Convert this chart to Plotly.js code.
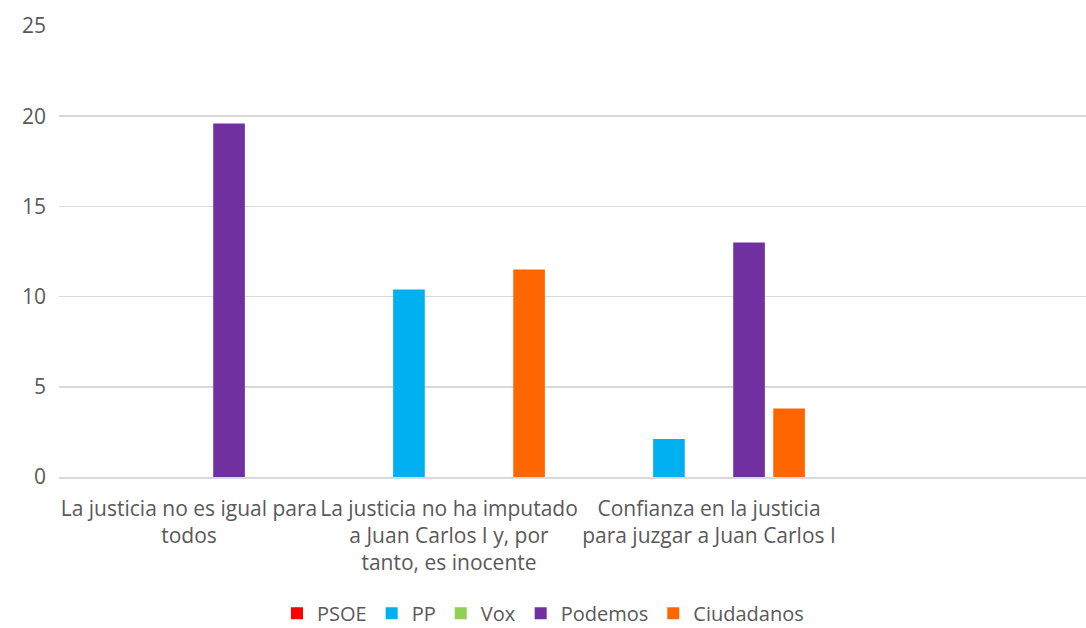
<!DOCTYPE html>
<html>
<head>
<meta charset="utf-8">
<script src="https://cdn.plot.ly/plotly-3.0.1.min.js"></script>
<style>html,body{margin:0;padding:0;background:#fff;}#chart{width:1086px;height:628px;}</style>
</head>
<body>
<div id="chart"></div>
<script>
const categories = [
  "La justicia no es igual para<br>todos",
  "La justicia no ha imputado<br>a Juan Carlos I y, por<br>tanto, es inocente",
  "Confianza en la justicia<br>para juzgar a Juan Carlos I"
];
const psoe = [null, null, null];
const pp = [null, 10.4, 2.1];
const vox = [null, null, null];
const podemos = [19.6, null, 13.0];
const ciudadanos = [null, 11.5, 3.8];

const seriesNames = ["PSOE", "PP", "Vox", "Podemos", "Ciudadanos"];
const seriesValues = [psoe, pp, vox, podemos, ciudadanos];
const seriesColors = ["#FF0000", "#00B0F0", "#92D050", "#7030A0", "#FF6600"];

const traces = seriesNames.map((n, i) => ({
  type: "bar",
  name: n,
  x: categories,
  y: seriesValues[i],
  marker: {color: seriesColors[i]},
  hoverinfo: "x+y+name"
}));

const FONT = "'Open Sans', Lato, sans-serif";

const layout = {
  width: 1086,
  height: 628,
  margin: {l: 59, r: 0, t: 26, b: 151, autoexpand: false},
  paper_bgcolor: "#ffffff",
  plot_bgcolor: "#ffffff",
  font: {family: FONT, size: 21, color: "#595959"},
  barmode: "group",
  bargap: 0.23,
  bargroupgap: 0.21,
  xaxis: {
    type: "category",
    range: [-0.5, 3.45],
    showgrid: false,
    showline: true,
    linecolor: "#D9D9D9",
    linewidth: 1.5,
    ticks: "",
    tickangle: 0,
    ticklabelstandoff: 12,
    tickfont: {family: FONT, size: 21, color: "#595959"},
    automargin: false
  },
  yaxis: {
    range: [0, 25],
    dtick: 5,
    showgrid: true,
    gridcolor: "#D9D9D9",
    gridwidth: 1.5,
    zeroline: false,
    showline: false,
    ticks: "",
    ticklabelstandoff: 12,
    tickfont: {family: FONT, size: 21, color: "#595959"},
    automargin: false
  },
  legend: {
    orientation: "h",
    x: 0.5,
    xanchor: "center",
    xref: "container",
    yref: "paper",
    y: -0.259,
    yanchor: "top",
    font: {family: FONT, size: 20, color: "#595959"},
    traceorder: "normal"
  },
  showlegend: true
};

Plotly.newPlot("chart", traces, layout, {displayModeBar: false, staticPlot: true});
</script>
</body>
</html>
